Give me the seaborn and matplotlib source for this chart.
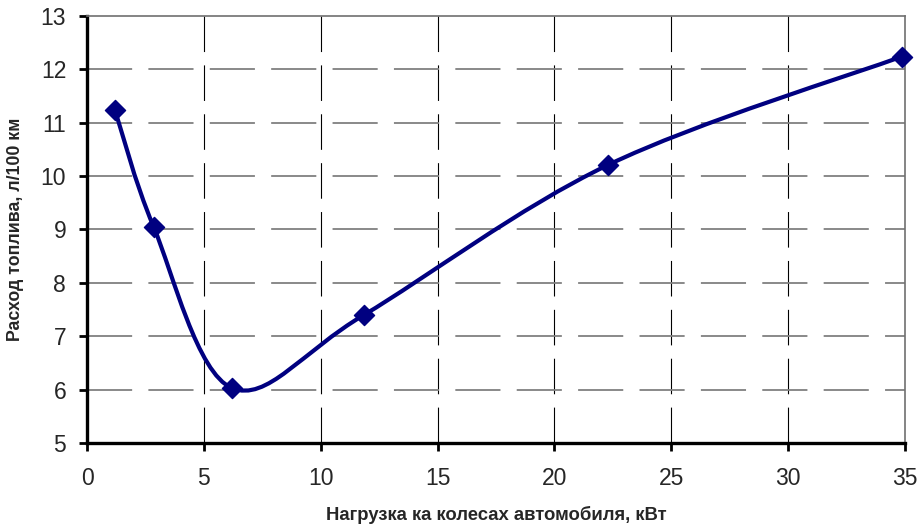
import numpy as np
import pandas as pd
import matplotlib
matplotlib.use("Agg")
import matplotlib.pyplot as plt
from matplotlib.path import Path
from matplotlib.patches import PathPatch
import seaborn as sns

# data
load_kw = [1.2, 2.85, 6.2, 11.85, 22.3, 34.87]
fuel_l100 = [11.23, 9.05, 6.03, 7.4, 10.21, 12.24]
x_ticks = [0, 5, 10, 15, 20, 25, 30, 35]
y_ticks = [5, 6, 7, 8, 9, 10, 11, 12, 13]

sns.set_style("ticks")
plt.rcParams['font.family'] = ['Liberation Sans', 'DejaVu Sans']

navy = "#000080"
df = pd.DataFrame({"x": load_kw, "y": fuel_l100})

fig = plt.figure(figsize=(9.2, 5.26), dpi=100)
ax = fig.add_axes([0.0946, 0.1578, 0.889, 0.8118])

# Excel-like smoothed line: Catmull-Rom control points -> cubic Bezier
pts = df[["x", "y"]].to_numpy()
ext = np.vstack([pts[0], pts, pts[-1]])
verts = [tuple(pts[0])]
codes = [Path.MOVETO]
for i in range(1, len(ext) - 2):
    p0, p1, p2, p3 = ext[i - 1], ext[i], ext[i + 1], ext[i + 2]
    c1 = p1 + (p2 - p0) / 6.0
    c2 = p2 - (p3 - p1) / 6.0
    verts += [tuple(c1), tuple(c2), tuple(p2)]
    codes += [Path.CURVE4] * 3
ax.add_patch(PathPatch(Path(verts, codes), facecolor="none", edgecolor=navy,
                       lw=3.0, zorder=4, capstyle="round", joinstyle="round"))

sns.scatterplot(data=df, x="x", y="y", marker="D", s=105, color=navy,
                edgecolor=navy, linewidth=1, zorder=5, clip_on=False, ax=ax)

ax.set_xlim(0, 35)
ax.set_ylim(5, 13)
ax.set_xticks(x_ticks)
ax.set_yticks(y_ticks)
ax.tick_params(axis="both", labelsize=16.5, length=6, width=2, direction="out",
               color="black")
ax.tick_params(axis="x", pad=11)
ax.tick_params(axis="y", pad=9)

# grid
for xv in x_ticks[1:-1]:
    ax.plot([xv, xv], [13, 5], color="black", lw=0.8, dashes=(32, 12), zorder=1)
for yv in y_ticks[1:-1]:
    ax.plot([0, 35], [yv, yv], color="#808080", lw=1.3, dashes=(25, 9), zorder=1)

for side in ["left", "bottom"]:
    ax.spines[side].set_linewidth(2.4)
    ax.spines[side].set_color("black")
for side in ["top", "right"]:
    ax.spines[side].set_visible(True)
    ax.spines[side].set_linewidth(1.2)
    ax.spines[side].set_color("#707070")

ax.set_xlabel("Нагрузка ка колесах автомобиля, кВт", fontsize=13.3,
              fontweight="bold", labelpad=12)
ax.set_ylabel("Расход топлива, л/100 км", fontsize=12.8, fontweight="bold",
              labelpad=12)

fig.savefig("out.png", dpi=100)
